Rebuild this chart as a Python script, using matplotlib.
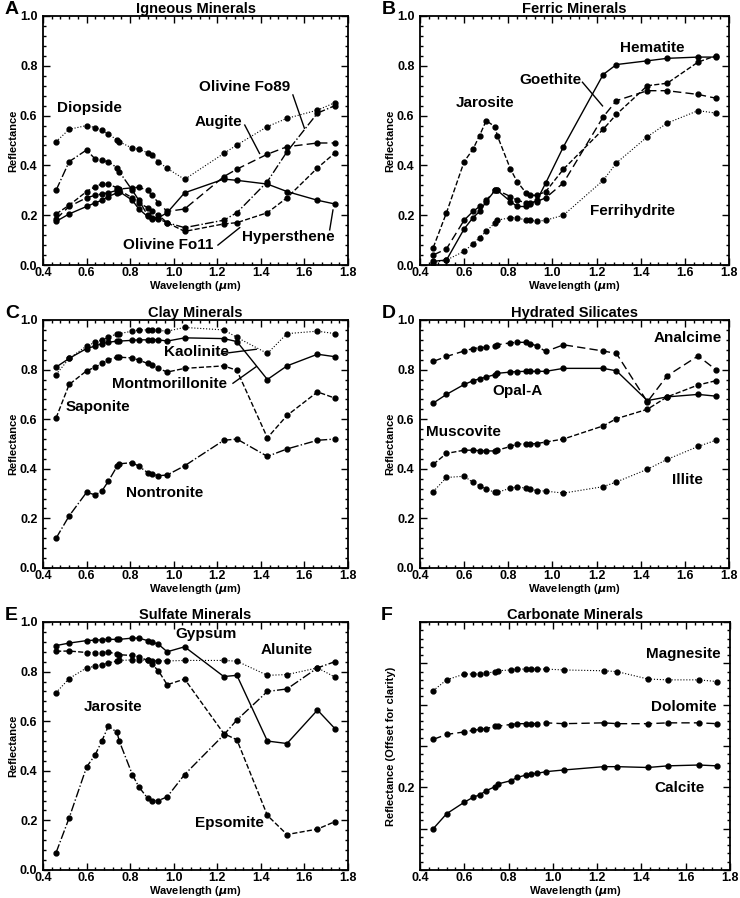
import numpy as np
import matplotlib
matplotlib.use('Agg')
import matplotlib.pyplot as plt
from matplotlib.ticker import MultipleLocator, AutoMinorLocator, FixedLocator, FixedFormatter

plt.rcParams['font.family'] = ['Liberation Sans', 'DejaVu Sans']
plt.rcParams['font.weight'] = 'bold'
plt.rcParams['mathtext.default'] = 'it'

# ---- DATA ---- #
wl = [0.46, 0.52, 0.60, 0.64, 0.67, 0.70, 0.74, 0.75, 0.81, 0.84, 0.88,
      0.90, 0.93, 0.97, 1.05, 1.23, 1.29, 1.43, 1.52, 1.66, 1.74]

# A - igneous
diopside = [0.495, 0.545, 0.560, 0.552, 0.542, 0.526, 0.502, 0.495, 0.469, 0.465, 0.451,
            0.442, 0.415, 0.388, 0.344, 0.448, 0.482, 0.556, 0.589, 0.622, 0.652]
augite = [0.185, 0.235, 0.270, 0.280, 0.285, 0.290, 0.300, 0.305, 0.310, 0.312, 0.300,
          0.280, 0.250, 0.215, 0.225, 0.355, 0.385, 0.445, 0.475, 0.490, 0.490]
hypersthene = [0.175, 0.205, 0.235, 0.250, 0.260, 0.275, 0.290, 0.295, 0.260, 0.225, 0.195,
               0.190, 0.190, 0.210, 0.290, 0.345, 0.340, 0.325, 0.295, 0.260, 0.245]
olivine_fo89 = [0.300, 0.415, 0.462, 0.425, 0.420, 0.415, 0.390, 0.375, 0.300, 0.260, 0.200,
                0.185, 0.185, 0.170, 0.150, 0.180, 0.210, 0.335, 0.455, 0.610, 0.640]
olivine_fo11 = [0.205, 0.240, 0.295, 0.315, 0.325, 0.325, 0.310, 0.300, 0.270, 0.250, 0.230,
                0.215, 0.200, 0.170, 0.135, 0.165, 0.170, 0.210, 0.270, 0.390, 0.450]

# B - ferric
hematite = [0.015, 0.020, 0.145, 0.190, 0.215, 0.255, 0.300, 0.300, 0.255, 0.235, 0.235,
            0.245, 0.260, 0.330, 0.475, 0.765, 0.805, 0.820, 0.830, 0.835, 0.835]
goethite = [0.040, 0.065, 0.180, 0.215, 0.235, 0.260, 0.300, 0.300, 0.275, 0.260, 0.250,
            0.250, 0.255, 0.270, 0.330, 0.595, 0.660, 0.700, 0.700, 0.685, 0.670]
jarosite = [0.070, 0.210, 0.415, 0.465, 0.520, 0.580, 0.555, 0.520, 0.385, 0.335, 0.290,
            0.280, 0.280, 0.295, 0.385, 0.545, 0.605, 0.720, 0.730, 0.815, 0.840]
ferrihydrite = [0.010, 0.020, 0.055, 0.085, 0.110, 0.135, 0.170, 0.180, 0.190, 0.190, 0.180,
                0.180, 0.175, 0.180, 0.200, 0.340, 0.410, 0.515, 0.570, 0.620, 0.610]

# C - clay
kaolinite = [0.780, 0.845, 0.895, 0.910, 0.920, 0.930, 0.945, 0.945, 0.955, 0.960, 0.960,
             0.960, 0.958, 0.955, 0.970, 0.960, 0.930, 0.865, 0.945, 0.955, 0.945]
montmorillonite = [0.810, 0.845, 0.885, 0.895, 0.905, 0.910, 0.915, 0.915, 0.918, 0.920, 0.920,
                   0.920, 0.920, 0.915, 0.928, 0.925, 0.913, 0.760, 0.815, 0.862, 0.852]
saponite = [0.605, 0.740, 0.795, 0.810, 0.825, 0.840, 0.850, 0.850, 0.847, 0.838, 0.825,
            0.818, 0.805, 0.790, 0.805, 0.815, 0.797, 0.525, 0.615, 0.710, 0.685]
nontronite = [0.120, 0.210, 0.305, 0.295, 0.310, 0.350, 0.410, 0.420, 0.425, 0.410, 0.385,
              0.380, 0.372, 0.375, 0.412, 0.515, 0.520, 0.450, 0.480, 0.515, 0.520]

# D - hydrated silicates
analcime = [0.833, 0.853, 0.875, 0.885, 0.888, 0.890, 0.897, 0.900, 0.908, 0.910, 0.910,
            0.905, 0.895, 0.873, 0.900, 0.875, 0.865, 0.670, 0.775, 0.855, 0.800]
opal_a = [0.665, 0.700, 0.740, 0.755, 0.763, 0.770, 0.780, 0.785, 0.790, 0.792, 0.793,
          0.793, 0.793, 0.793, 0.805, 0.805, 0.795, 0.675, 0.690, 0.700, 0.693]
muscovite = [0.418, 0.462, 0.475, 0.475, 0.473, 0.472, 0.472, 0.475, 0.490, 0.500, 0.500,
             0.500, 0.502, 0.508, 0.520, 0.573, 0.602, 0.640, 0.690, 0.738, 0.755]
illite = [0.308, 0.365, 0.370, 0.345, 0.332, 0.318, 0.305, 0.305, 0.322, 0.327, 0.322,
          0.317, 0.312, 0.310, 0.302, 0.328, 0.347, 0.398, 0.438, 0.490, 0.515]

# E - sulfate
gypsum = [0.905, 0.915, 0.925, 0.927, 0.928, 0.930, 0.930, 0.930, 0.935, 0.935, 0.925,
          0.920, 0.910, 0.880, 0.900, 0.780, 0.785, 0.520, 0.510, 0.645, 0.570]
alunite = [0.715, 0.772, 0.815, 0.822, 0.828, 0.835, 0.843, 0.845, 0.847, 0.848, 0.845,
           0.843, 0.843, 0.843, 0.845, 0.845, 0.842, 0.785, 0.788, 0.815, 0.778]
epsomite = [0.882, 0.883, 0.877, 0.877, 0.877, 0.878, 0.872, 0.868, 0.865, 0.860, 0.845,
            0.830, 0.803, 0.747, 0.770, 0.550, 0.525, 0.220, 0.143, 0.165, 0.195]

# F - carbonate (offset)
magnesite = [0.317, 0.330, 0.337, 0.337, 0.337, 0.338, 0.340, 0.341, 0.342, 0.343, 0.343,
             0.343, 0.343, 0.343, 0.342, 0.341, 0.340, 0.331, 0.330, 0.330, 0.328]
dolomite = [0.258, 0.264, 0.267, 0.269, 0.270, 0.271, 0.274, 0.274, 0.276, 0.277, 0.277,
            0.277, 0.277, 0.278, 0.277, 0.278, 0.277, 0.277, 0.278, 0.278, 0.277]
calcite = [0.150, 0.168, 0.182, 0.188, 0.191, 0.196, 0.201, 0.204, 0.208, 0.212, 0.215,
           0.216, 0.217, 0.219, 0.221, 0.225, 0.225, 0.224, 0.226, 0.227, 0.226]

# ---- FIGURE ---- #
W, H = 740, 898
fig = plt.figure(figsize=(W / 100, H / 100), dpi=100)


def make_ax(l, r, t, b):
    return fig.add_axes([l / W, 1 - b / H, (r - l) / W, (b - t) / H])


def style(ax, title, letter, ylabel='Reflectance'):
    ax.set_xlim(0.4, 1.8)
    ax.xaxis.set_major_locator(MultipleLocator(0.2))
    ax.xaxis.set_minor_locator(AutoMinorLocator(5))
    ax.yaxis.set_minor_locator(AutoMinorLocator(5))
    ax.tick_params(which='both', direction='in', top=True, right=True, labelsize=9, width=1)
    ax.tick_params(axis='x', pad=1.5)
    ax.tick_params(axis='y', pad=4)
    ax.tick_params(which='major', length=5)
    ax.tick_params(which='minor', length=2.5)
    for s in ax.spines.values():
        s.set_linewidth(1.3)
    ax.set_xlabel(r'Wavelength ($\mu$m)', fontsize=8, fontweight='bold', labelpad=0)
    ax.set_ylabel(ylabel, fontsize=8, fontweight='bold', labelpad=1)
    ax.set_title(title, fontsize=10.5, fontweight='bold', pad=2)
    ax.text(-0.125, 1.025, letter, transform=ax.transAxes, fontsize=14, fontweight='bold',
            ha='left', va='center')


def curve(ax, y, ls):
    lw = 0.8 if ls == ':' else 1.0
    ax.plot(wl, y, color='k', linestyle=ls, linewidth=lw, marker='o', markersize=3.5)


def label(ax, txt, xy, xytext=None, tip=None):
    ax.text(xy[0], xy[1], txt, fontsize=11, fontweight='bold', ha='center', va='center')
    if tip is not None:
        ax.plot([xytext[0], tip[0]], [xytext[1], tip[1]], color='k', linewidth=1)


def fmt01(ax):
    ax.set_ylim(0, 1.0)
    ax.yaxis.set_major_locator(MultipleLocator(0.2))
    ax.yaxis.set_major_formatter(matplotlib.ticker.FormatStrFormatter('%.1f'))


# ---- A ---- #
ax = make_ax(43, 348, 16, 265)
fmt01(ax)
curve(ax, diopside, ':')
curve(ax, olivine_fo89, '-.')
curve(ax, augite, (0, (6, 3)))
curve(ax, hypersthene, '-')
curve(ax, olivine_fo11, '--')
label(ax, 'Diopside', (0.614, 0.629))
label(ax, 'Olivine Fo89', (1.326, 0.713), (1.547, 0.683), (1.600, 0.549))
label(ax, 'Augite', (1.203, 0.573), (1.326, 0.562), (1.394, 0.448))
label(ax, 'Olivine Fo11', (0.974, 0.080), (1.203, 0.080), (1.303, 0.150))
label(ax, 'Hypersthene', (1.525, 0.114), (1.716, 0.141), (1.731, 0.221))
style(ax, 'Igneous Minerals', 'A')

# ---- B ---- #
ax = make_ax(420, 729, 16, 265)
fmt01(ax)
curve(ax, hematite, '-')
curve(ax, goethite, (0, (6, 3)))
curve(ax, jarosite, '--')
curve(ax, ferrihydrite, ':')
label(ax, 'Hematite', (1.454, 0.873))
label(ax, 'Goethite', (0.992, 0.743), (1.136, 0.734), (1.227, 0.639))
label(ax, 'Jarosite', (0.696, 0.649))
label(ax, 'Ferrihydrite', (1.363, 0.216))
style(ax, 'Ferric Minerals', 'B')

# ---- C ---- #
ax = make_ax(43, 348, 320, 568)
fmt01(ax)
curve(ax, kaolinite, ':')
curve(ax, montmorillonite, '-')
curve(ax, saponite, '--')
curve(ax, nontronite, '-.')
label(ax, 'Kaolinite', (1.104, 0.870), (1.219, 0.864), (1.379, 0.882))
label(ax, 'Montmorillonite', (0.981, 0.741), (1.272, 0.745), (1.379, 0.812))
label(ax, 'Saponite', (0.652, 0.651))
label(ax, 'Nontronite', (0.958, 0.302))
style(ax, 'Clay Minerals', 'C')

# ---- D ---- #
ax = make_ax(420, 729, 320, 568)
fmt01(ax)
curve(ax, analcime, (0, (6, 3)))
curve(ax, opal_a, '-')
curve(ax, muscovite, '--')
curve(ax, illite, ':')
label(ax, 'Analcime', (1.613, 0.926))
label(ax, 'Opal-A', (0.840, 0.715))
label(ax, 'Muscovite', (0.597, 0.550))
label(ax, 'Illite', (1.613, 0.356))
style(ax, 'Hydrated Silicates', 'D')

# ---- E ---- #
ax = make_ax(43, 348, 622, 870)
fmt01(ax)
curve(ax, gypsum, '-')
curve(ax, alunite, ':')
curve(ax, epsomite, '--')
curve(ax, jarosite, '-.')
label(ax, 'Gypsum', (1.150, 0.950))
label(ax, 'Alunite', (1.517, 0.886))
label(ax, 'Jarosite', (0.721, 0.658))
label(ax, 'Epsomite', (1.257, 0.188))
style(ax, 'Sulfate Minerals', 'E')

# ---- F ---- #
ax = make_ax(420, 730, 622, 870)
ax.set_ylim(0.1, 0.4)
ax.yaxis.set_major_locator(FixedLocator([0.1, 0.15, 0.2, 0.25, 0.3, 0.35, 0.4]))
ax.yaxis.set_major_formatter(FixedFormatter(['', '', '0.2', '', '', '', '']))
curve(ax, magnesite, ':')
curve(ax, dolomite, (0, (6, 3)))
curve(ax, calcite, '-')
label(ax, 'Magnesite', (1.590, 0.361))
label(ax, 'Dolomite', (1.590, 0.297))
label(ax, 'Calcite', (1.571, 0.199))
style(ax, 'Carbonate Minerals', 'F', ylabel='Reflectance (Offset for clarity)')

fig.savefig('out.png', dpi=100)
